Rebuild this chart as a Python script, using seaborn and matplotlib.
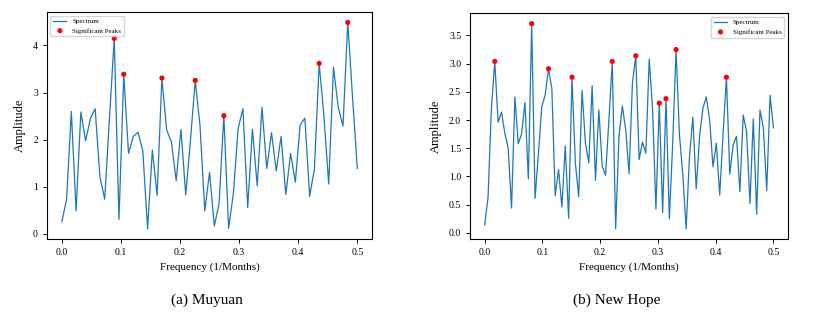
import numpy as np
import pandas as pd
import matplotlib
matplotlib.use("Agg")
import matplotlib.pyplot as plt
import seaborn as sns

plt.rcParams['font.family'] = ['Liberation Serif', 'DejaVu Serif']

# Muyuan spectrum (N = 124 months, k = 0..62)
muyuan_amp = [0.26, 0.73, 2.60, 0.49, 2.59, 1.98, 2.45, 2.66, 1.21, 0.74,
              2.45, 4.15, 0.31, 3.39, 1.71, 2.07, 2.16, 1.76, 0.11, 1.78,
              0.82, 3.31, 2.21, 1.95, 1.13, 2.22, 0.83, 2.00, 3.26, 2.30,
              0.49, 1.31, 0.17, 0.65, 2.51, 0.12, 0.86, 2.24, 2.66, 0.56,
              2.22, 1.02, 2.69, 1.39, 2.15, 1.34, 2.07, 0.84, 1.71, 1.10,
              2.31, 2.46, 0.80, 1.38, 3.62, 2.50, 1.06, 3.54, 2.69, 2.29,
              4.49, 2.90, 1.39]
muyuan_n = 124
muyuan_peaks = [11, 13, 21, 28, 34, 54, 60]

# New Hope spectrum (N = 172 months, k = 0..86)
newhope_amp = [0.14, 0.63, 2.20, 3.04, 1.96, 2.14, 1.77, 1.50, 0.44, 2.41,
               1.58, 1.76, 2.31, 0.96, 3.71, 0.61, 1.40, 2.24, 2.44, 2.91,
               2.56, 0.66, 1.12, 0.46, 1.54, 0.26, 2.76, 1.24, 0.64, 2.53,
               1.59, 1.24, 2.61, 0.93, 2.18, 1.18, 1.02, 2.00, 3.04, 0.07,
               1.71, 2.25, 1.83, 1.05, 2.65, 3.14, 1.30, 1.61, 1.41, 3.08,
               2.20, 0.42, 2.30, 0.36, 2.38, 0.25, 1.60, 3.25, 1.74, 1.04,
               0.07, 1.36, 2.05, 0.78, 1.71, 2.21, 2.41, 2.00, 1.17, 1.59,
               0.67, 1.75, 2.76, 1.04, 1.56, 1.71, 0.73, 2.09, 1.80, 0.52,
               2.02, 0.33, 2.18, 1.86, 0.75, 2.44, 1.86]
newhope_n = 172
newhope_peaks = [3, 14, 19, 26, 38, 45, 52, 54, 57, 72]

captions = ["(a) Muyuan", "(b) New Hope"]
legend_locs = ["upper left", "upper right"]

fig = plt.figure(figsize=(8.25, 3.18), dpi=100)
ax1 = fig.add_axes([0.057, 0.248, 0.394, 0.714])
ax2 = fig.add_axes([0.570, 0.248, 0.385, 0.710])

datasets = [(muyuan_amp, muyuan_n, muyuan_peaks), (newhope_amp, newhope_n, newhope_peaks)]

for ax, (amp, n, peaks), cap, loc in zip([ax1, ax2], datasets, captions, legend_locs):
    freq = np.arange(len(amp)) / n
    df = pd.DataFrame({"freq": freq, "amp": amp})
    pk = df.iloc[peaks]
    sns.lineplot(data=df, x="freq", y="amp", ax=ax, color="#1f77b4",
                 linewidth=0.9, label="Spectrum")
    sns.scatterplot(data=pk, x="freq", y="amp", ax=ax, color="red", s=14,
                    edgecolor="none", label="Significant Peaks", zorder=3)
    ax.set_xlabel("Frequency (1/Months)", fontsize=8)
    ax.set_ylabel("Amplitude", fontsize=9)
    ax.tick_params(labelsize=7, length=3, width=0.7)
    for s in ax.spines.values():
        s.set_linewidth(0.8)
    ax.set_xticks([0.0, 0.1, 0.2, 0.3, 0.4, 0.5])
    ax.legend(loc=loc, fontsize=5, frameon=True, handlelength=1.9,
              borderpad=0.4, labelspacing=0.5, markerscale=1.0)

ax2.set_yticks([0.0, 0.5, 1.0, 1.5, 2.0, 2.5, 3.0, 3.5])
ax2.set_yticklabels(["0.0", "0.5", "1.0", "1.5", "2.0", "2.5", "3.0", "3.5"])
ax1.yaxis.set_label_coords(-0.066, 0.5)
ax2.yaxis.set_label_coords(-0.088, 0.5)

fig.text(0.251, 0.056, captions[0], ha="center", va="center", fontsize=11)
fig.text(0.747, 0.056, captions[1], ha="center", va="center", fontsize=11)

fig.savefig("out.png", dpi=100)
